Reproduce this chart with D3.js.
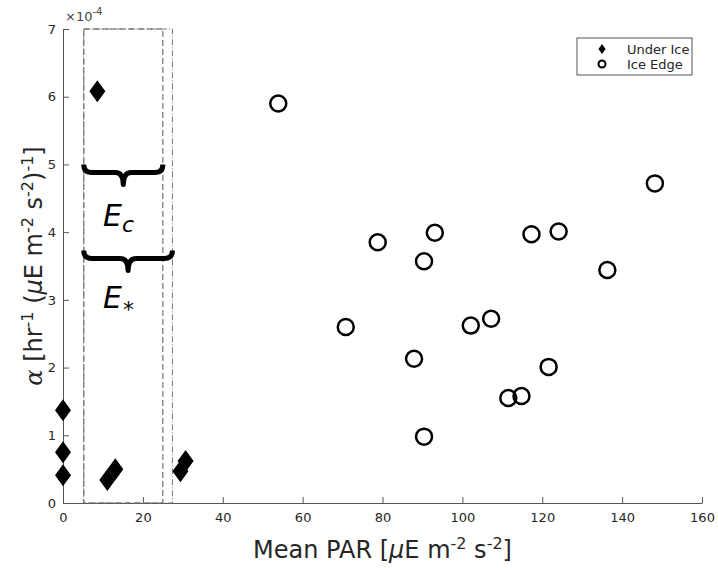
<!DOCTYPE html>
<html>
<head>
<meta charset="utf-8">
<script src="https://cdn.jsdelivr.net/npm/d3@7"></script>
<style>
  body { margin: 0; background: #fff; overflow: hidden; }
  svg { display: block; font-family: "DejaVu Sans", sans-serif; }
</style>
</head>
<body>
<svg id="chart" width="718" height="568"></svg>
<script>
// values (alpha in units of 1e-4)
const underIceX = [8.6, 0, 0, 0, 11.1, 13.1, 29.4, 30.7];
const underIceY = [6.08, 1.37, 0.75, 0.41, 0.34, 0.50, 0.47, 0.62];
const iceEdgeX = [53.9, 148.2, 78.8, 93.1, 90.4, 117.3, 124.1, 136.3, 70.8, 102.1, 107.2, 87.9, 121.6, 111.5, 114.8, 90.4];
const iceEdgeY = [5.90, 4.72, 3.85, 3.99, 3.57, 3.97, 4.01, 3.44, 2.60, 2.62, 2.72, 2.13, 2.01, 1.55, 1.58, 0.98];
const xTicks = [0, 20, 40, 60, 80, 100, 120, 140, 160];
const yTicks = [0, 1, 2, 3, 4, 5, 6, 7];
const ecRange = [5.2, 25];     // dashed box / E_c brace
const estarRange = [5.2, 27.4]; // dash-dot box / E* brace
const ecBraceY = 5.0;
const estarBraceY = 3.73;

const svg = d3.select('#chart');
const margin = {top: 29, right: 16, left: 63, bottom: 65};
const width = +svg.attr('width');
const height = +svg.attr('height');
const innerWidth = width - margin.left - margin.right;
const innerHeight = height - margin.top - margin.bottom;
const axisColor = '#262626';

const g = svg.append('g')
    .attr('transform', `translate(${margin.left}, ${margin.top})`);

const xScale = d3.scaleLinear().domain([0, 160]).range([0, innerWidth]);
const yScale = d3.scaleLinear().domain([0, 7]).range([innerHeight, 0]);

// axes, ticks pointing inward
const xAxisG = g.append('g')
    .attr('transform', `translate(0, ${innerHeight})`)
    .call(d3.axisBottom(xScale).tickValues(xTicks).tickFormat(d3.format('d'))
      .tickSizeInner(-6).tickSizeOuter(0).tickPadding(10));
const yAxisG = g.append('g')
    .call(d3.axisLeft(yScale).tickValues(yTicks).tickFormat(d3.format('d'))
      .tickSizeInner(-6).tickSizeOuter(0).tickPadding(7));

[xAxisG, yAxisG].forEach(a => {
  a.select('.domain').attr('stroke', '#555').attr('stroke-width', 1);
  a.selectAll('.tick line').attr('stroke', '#555');
  a.selectAll('.tick text').attr('fill', axisColor).style('font-size', '13px')
      .style('font-family', '"DejaVu Sans", sans-serif');
});

// exponent label
const expo = g.append('text')
    .attr('x', 2).attr('y', -8)
    .attr('fill', '#444')
    .style('font-size', '13px');
expo.append('tspan').text('×10');
expo.append('tspan').attr('dy', -6).style('font-size', '10px').text('-4');

// dashed boxes
g.append('rect')
    .attr('x', xScale(ecRange[0])).attr('y', yScale(7))
    .attr('width', xScale(ecRange[1]) - xScale(ecRange[0]))
    .attr('height', yScale(0) - yScale(7))
    .attr('fill', 'none').attr('stroke', '#555').attr('stroke-width', 1)
    .attr('stroke-dasharray', '6,3');
g.append('rect')
    .attr('x', xScale(estarRange[0])).attr('y', yScale(7))
    .attr('width', xScale(estarRange[1]) - xScale(estarRange[0]))
    .attr('height', yScale(0) - yScale(7))
    .attr('fill', 'none').attr('stroke', '#777').attr('stroke-width', 1)
    .attr('stroke-dasharray', '6,2,1,2');

// curly braces
function brace(x0, x1, y) {
  const a = xScale(x0), b = xScale(x1), top = yScale(y);
  const m = (a + b) / 2, y1 = top + 8, y2 = top + 20, r = 8;
  return `M${a},${top} Q${a},${y1} ${a + r},${y1} L${m - r},${y1} Q${m},${y1} ${m},${y2}` +
         ` Q${m},${y1} ${m + r},${y1} L${b - r},${y1} Q${b},${y1} ${b},${top}`;
}
[[ecRange, ecBraceY], [estarRange, estarBraceY]].forEach(([r, y]) => {
  g.append('path')
      .attr('d', brace(r[0], r[1], y))
      .attr('fill', 'none').attr('stroke', '#000').attr('stroke-width', 5)
      .attr('stroke-linejoin', 'round');
});

const ecLabel = g.append('text')
    .attr('x', xScale(10)).attr('y', yScale(ecBraceY) + 62)
    .style('font-size', '30px').style('font-style', 'italic').attr('fill', '#000');
ecLabel.append('tspan').text('E');
ecLabel.append('tspan').attr('dy', 6).style('font-size', '22px').text('c');

const esLabel = g.append('text')
    .attr('x', xScale(10)).attr('y', yScale(estarBraceY) + 58)
    .style('font-size', '30px').style('font-style', 'italic').attr('fill', '#000');
esLabel.append('tspan').text('E');
esLabel.append('tspan').attr('dx', 1).attr('dy', 9).style('font-size', '22px').style('font-style', 'normal').text('*');

// markers
const diamond = 'M0,-11 L8,0 L0,11 L-8,0 Z';
g.selectAll('.under').data(underIceX.map((x, i) => ({x, y: underIceY[i]})))
  .enter().append('path')
    .attr('class', 'under')
    .attr('d', diamond)
    .attr('transform', d => `translate(${xScale(d.x)}, ${yScale(d.y)})`)
    .attr('fill', '#000');

g.selectAll('.edge').data(iceEdgeX.map((x, i) => ({x, y: iceEdgeY[i]})))
  .enter().append('circle')
    .attr('class', 'edge')
    .attr('cx', d => xScale(d.x))
    .attr('cy', d => yScale(d.y))
    .attr('r', 8)
    .attr('fill', 'none').attr('stroke', '#000').attr('stroke-width', 2.5);

// legend
const leg = svg.append('g').attr('transform', 'translate(577, 38)');
leg.append('rect').attr('width', 115).attr('height', 37)
    .attr('fill', '#fff').attr('stroke', '#555').attr('stroke-width', 1);
leg.append('path').attr('d', 'M0,-5 L3.5,0 L0,5 L-3.5,0 Z')
    .attr('transform', 'translate(25, 11)').attr('fill', '#000');
leg.append('circle').attr('cx', 25).attr('cy', 26).attr('r', 3.5)
    .attr('fill', 'none').attr('stroke', '#000').attr('stroke-width', 2);
leg.append('text').attr('x', 50).attr('y', 16).style('font-size', '13px').attr('fill', axisColor).text('Under Ice');
leg.append('text').attr('x', 50).attr('y', 31).style('font-size', '13px').attr('fill', axisColor).text('Ice Edge');

// axis labels
const xl = svg.append('text')
    .attr('x', margin.left + innerWidth / 2).attr('y', 558)
    .attr('text-anchor', 'middle').attr('fill', axisColor)
    .style('font-size', '24px');
xl.append('tspan').text('Mean PAR [');
xl.append('tspan').style('font-style', 'italic').text('μ');
xl.append('tspan').text('E m');
xl.append('tspan').attr('dy', -9).style('font-size', '16px').text('-2');
xl.append('tspan').attr('dy', 9).text(' s');
xl.append('tspan').attr('dy', -9).style('font-size', '16px').text('-2');
xl.append('tspan').attr('dy', 9).text(']');

const yl = svg.append('text')
    .attr('transform', `translate(42, ${margin.top + innerHeight / 2}) rotate(-90)`)
    .attr('text-anchor', 'middle').attr('fill', axisColor)
    .style('font-size', '24px');
yl.append('tspan').style('font-style', 'italic').style('font-family', '"DejaVu Serif", serif').text('α');
yl.append('tspan').text(' [hr');
yl.append('tspan').attr('dy', -9).style('font-size', '16px').text('-1');
yl.append('tspan').attr('dy', 9).text(' (');
yl.append('tspan').style('font-style', 'italic').text('μ');
yl.append('tspan').text('E m');
yl.append('tspan').attr('dy', -9).style('font-size', '16px').text('-2');
yl.append('tspan').attr('dy', 9).text(' s');
yl.append('tspan').attr('dy', -9).style('font-size', '16px').text('-2');
yl.append('tspan').attr('dy', 9).text(')');
yl.append('tspan').attr('dy', -9).style('font-size', '16px').text('-1');
yl.append('tspan').attr('dy', 9).text(']');
</script>
</body>
</html>
